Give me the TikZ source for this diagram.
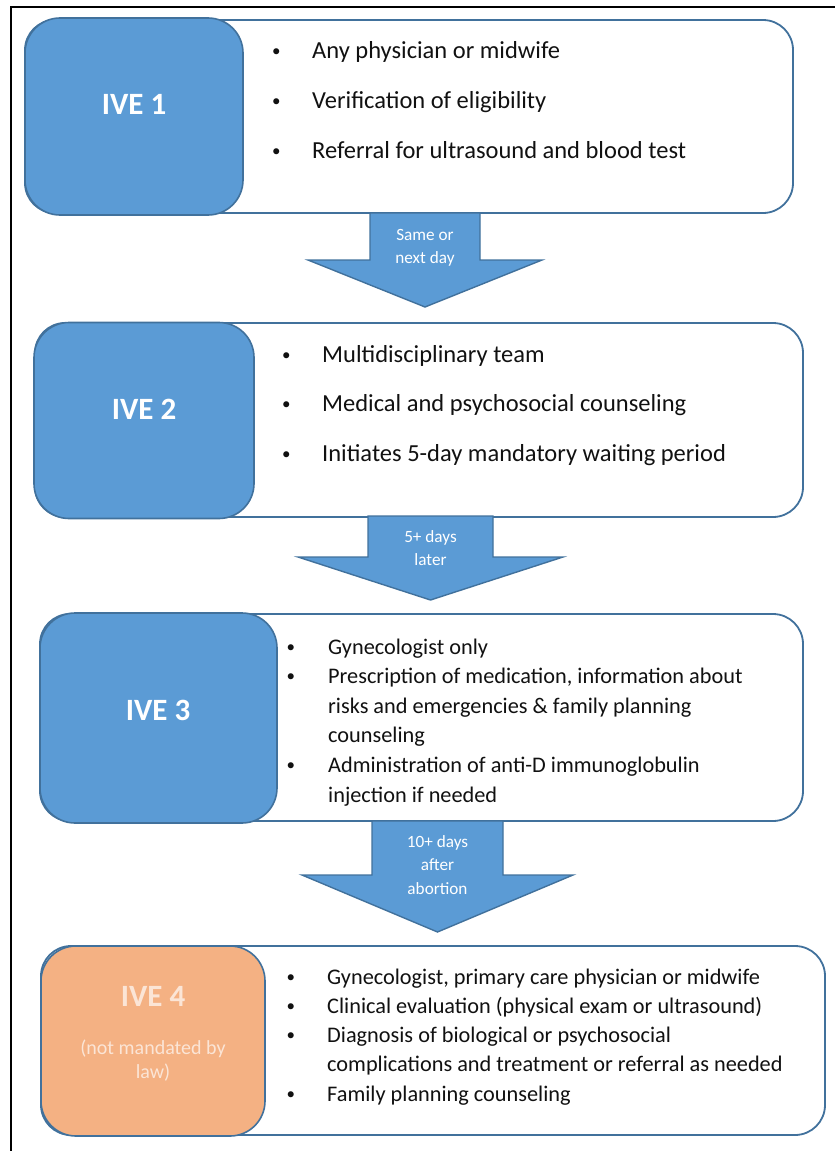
\documentclass[tikz,border=0pt]{standalone}
\usepackage{fontspec}
\setmainfont{Carlito}
\usetikzlibrary{positioning}
\definecolor{ivefill}{HTML}{5B9BD5}
\definecolor{iveline}{HTML}{41719C}
\definecolor{ivepeach}{HTML}{F4B183}
\definecolor{ivepale}{HTML}{FBE5D6}
\definecolor{iveink}{HTML}{111111}
\newcommand\ivebullet{\raisebox{2pt}{\fontsize{17}{17}\selectfont\textbullet}}

\begin{document}
\begin{tikzpicture}[
  x=1pt, y=-1pt,
  panel/.style={draw=iveline, line width=1.8pt, fill=white, rounded corners=30pt, inner sep=0pt},
  stage/.style={draw=iveline, line width=1.6pt, fill=ivefill, rounded corners=35pt, inner sep=0pt},
  tag/.style={text=white, font=\fontsize{31}{33}\selectfont\bfseries, inner sep=0pt},
  items/.style={text=iveink, inner sep=0pt, anchor=base west},
  flow/.style={draw=iveline, line width=1.4pt, fill=ivefill, line join=miter},
  flowtext/.style={text=white, align=center, inner sep=0pt, font=\fontsize{17.2}{23.5}\selectfont},
  ]
  \useasboundingbox (0,0) rectangle (835,1151);
  \draw[line width=2pt] (11,1151) |- (835,7);

  % step 1
  \node[panel, minimum width=768pt, minimum height=193pt] (p1) at (409,116.5) {};
  \node[stage, minimum width=218pt, minimum height=197pt] (s1) at (134,116.5) {};
  \node[tag] (t1) at (134,104) {IVE 1};
  \node[items] (b1) at (272,58) {\fontsize{24.5}{50}\selectfont
    \begin{tabular}[t]{@{}p{40pt}@{}l@{}}
    \ivebullet & Any physician or midwife\\
    \ivebullet & Verification of eligibility\\
    \ivebullet & Referral for ultrasound and blood test
    \end{tabular}};

  % step 2
  \node[panel, minimum width=768pt, minimum height=194pt] (p2) at (419,420) {};
  \node[stage, minimum width=220pt, minimum height=196pt] (s2) at (144,420.5) {};
  \node[tag] (t2) at (144,409) {IVE 2};
  \node[items] (b2) at (282,362) {\fontsize{24.5}{49.5}\selectfont
    \begin{tabular}[t]{@{}p{40pt}@{}l@{}}
    \ivebullet & Multidisciplinary team\\
    \ivebullet & Medical and psychosocial counseling\\
    \ivebullet & Initiates 5-day mandatory waiting period
    \end{tabular}};

  % step 3
  \node[panel, minimum width=763pt, minimum height=207pt] (p3) at (421.5,717.5) {};
  \node[stage, minimum width=237pt, minimum height=210pt] (s3) at (158.5,718) {};
  \node[tag] (t3) at (158,710) {IVE 3};
  \node[items] (b3) at (286.5,654) {\fontsize{22.3}{29.6}\selectfont
    \begin{tabular}[t]{@{}p{41.5pt}@{}l@{}}
    \ivebullet & Gynecologist only\\
    \ivebullet & Prescription of medication, information about\\
    & risks and emergencies \& family planning\\
    & counseling\\
    \ivebullet & Administration of anti-D immunoglobulin\\
    & injection if needed
    \end{tabular}};

  % step 4
  \node[panel, minimum width=784pt, minimum height=189pt] (p4) at (433,1040.5) {};
  \node[stage, fill=ivepeach, minimum width=224pt, minimum height=190pt] (s4) at (153,1041) {};
  \node[tag, text=ivepale] (t4) at (153,996) {IVE 4};
  \node[text=ivepale, inner sep=0pt, anchor=base, font=\fontsize{20}{24}\selectfont] (n4a) at (153,1054) {(not mandated by};
  \node[text=ivepale, inner sep=0pt, anchor=base, font=\fontsize{20}{24}\selectfont] (n4b) at (153,1078) {law)};
  \node[items] (b4) at (286.5,984) {\fontsize{22.3}{29.25}\selectfont
    \begin{tabular}[t]{@{}p{40.5pt}@{}l@{}}
    \ivebullet & Gynecologist, primary care physician or midwife\\
    \ivebullet & Clinical evaluation (physical exam or ultrasound)\\
    \ivebullet & Diagnosis of biological or psychosocial\\
    & complications and treatment or referral as needed\\
    \ivebullet & Family planning counseling
    \end{tabular}};

  % block arrows between steps
  \draw[flow] (370,213) -- (480,213) -- (480,260) -- (542,260) -- (425,307)
    -- (308,260) -- (370,260) -- cycle;
  \node[flowtext] (a1) at (425,248) {Same or\\next day};
  \draw[flow] (368,516) -- (493,516) -- (493,557) -- (563,557) -- (430.5,600)
    -- (298,557) -- (368,557) -- cycle;
  \node[flowtext] (a2) at (430.5,548) {5+ days\\later};
  \draw[flow] (372,821) -- (503,821) -- (503,875) -- (573,875) -- (437.5,932)
    -- (302,875) -- (372,875) -- cycle;
  \node[flowtext] (a3) at (437.5,865) {10+ days\\after\\abortion};
\end{tikzpicture}
\end{document}
